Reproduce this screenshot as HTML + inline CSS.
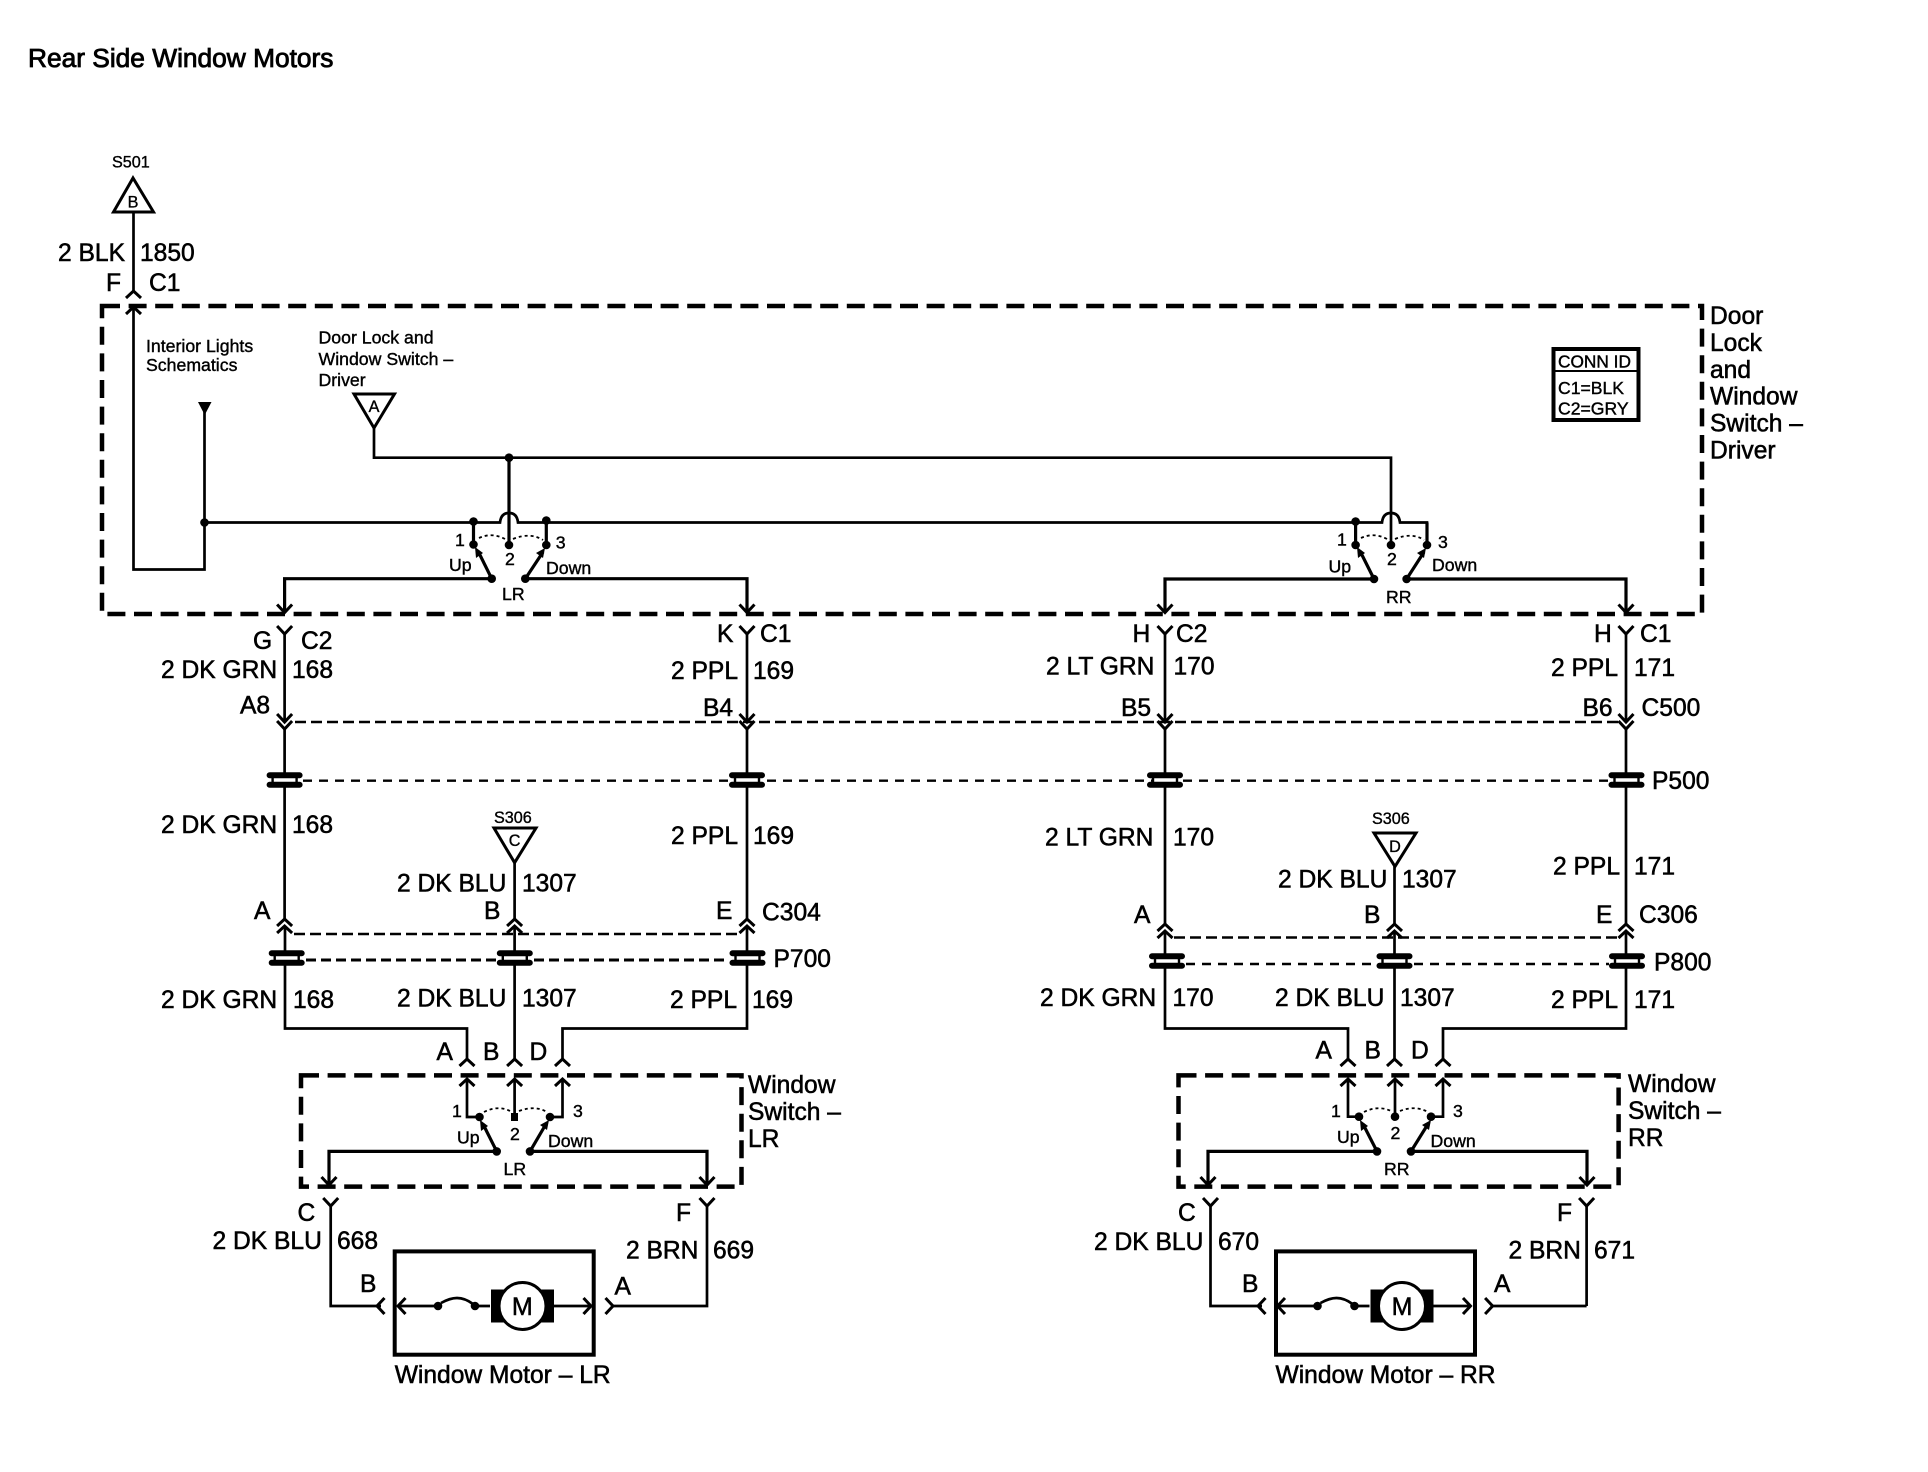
<!DOCTYPE html>
<html><head><meta charset="utf-8"><title>Rear Side Window Motors</title>
<style>
html,body{margin:0;padding:0;background:#fff}
svg{display:block}
text{font-family:"Liberation Sans",sans-serif;fill:#000}
.l{font-size:24.6px;stroke:#000;stroke-width:.55}
.s{font-size:17.7px;stroke:#000;stroke-width:.4}
.t{font-size:26.3px;stroke:#000;stroke-width:.85}
.c{font-size:16.2px;stroke:#000;stroke-width:.35}
.m{font-size:25px;stroke:#000;stroke-width:.5;text-anchor:middle}
.w{fill:none;stroke:#000;stroke-width:2.7}
.h{fill:none;stroke:#000;stroke-width:3.2}
.b{fill:none;stroke:#000;stroke-width:4.5;stroke-dasharray:18 8.6}
.d1{fill:none;stroke:#000;stroke-width:2.6;stroke-dasharray:11 5}
.d2{fill:none;stroke:#000;stroke-width:2.4;stroke-dasharray:9 7}
.d3{fill:none;stroke:#000;stroke-width:3;stroke-dasharray:10 5}
.a{fill:none;stroke:#000;stroke-width:1.8;stroke-dasharray:3 3}
.tri{fill:#fff;stroke:#000;stroke-width:3}
</style></head><body>
<svg width="1928" height="1472" viewBox="0 0 1928 1472" xmlns="http://www.w3.org/2000/svg">
<defs>
<path id="vd" d="M-7.5 -8L0 0L7.5 -8" fill="none" stroke="#000" stroke-width="3"/>
<path id="vu" d="M-7.5 7L0 0L7.5 7" fill="none" stroke="#000" stroke-width="3"/>
<path id="vl" d="M7.5 -8L0 0L7.5 8" fill="none" stroke="#000" stroke-width="3"/>
<path id="vr" d="M-7.5 -8L0 0L-7.5 8" fill="none" stroke="#000" stroke-width="3"/>
<g id="plug">
<rect x="-12" y="-5" width="24" height="10" fill="#fff" stroke="#000" stroke-width="2.4"/>
<path d="M-15 -4.700H15M-15 4.700H15" stroke="#000" stroke-width="6" stroke-linecap="round" fill="none"/>
<path d="M-10 0H10" stroke="#fff" stroke-width="2.4" fill="none"/>
</g>
<circle id="dot" r="4.3" fill="#000"/>
<g id="motor">
<path d="M-7.5 -8L0 0L-7.5 8" transform="translate(196,0)" fill="none" stroke="#000" stroke-width="3"/>
<path d="M3 0H43M80 0H95" class="w"/>
<path d="M7.5 -8L0 0L7.5 8" transform="translate(3,0)" fill="none" stroke="#000" stroke-width="3"/>
<circle cx="43" cy="0" r="4.3" fill="#000"/>
<circle cx="80" cy="0" r="4.3" fill="#000"/>
<path d="M46 -3Q55 -8 62 -8Q70 -8 78 -2" class="w"/>
<rect x="96" y="-16.5" width="63" height="33" fill="#000"/>
<circle cx="127.500" cy="0" r="23.500" fill="#fff" stroke="#000" stroke-width="3"/>
<path d="M159 0H196" class="w"/>
</g>
</defs>

<text x="28" y="67" class="t">Rear Side Window Motors</text>

<!-- top S501 -->
<text x="112" y="167.500" class="c">S501</text>
<path d="M133 178L113.500 212H153.500Z" class="tri"/>
<text x="133" y="207.500" class="c" text-anchor="middle">B</text>
<path d="M133.500 212V292" class="w"/>
<use href="#vu" x="133.500" y="291"/>
<text x="58" y="261" class="l">2 BLK</text>
<text x="140" y="261" class="l">1850</text>
<text x="106" y="291" class="l">F</text>
<text x="149" y="291" class="l">C1</text>

<!-- main dashed box -->
<path d="M102 306H1702V614H102Z" class="b"/>

<path d="M133.500 308V569.500H204.500V410" class="w"/>
<use href="#vu" x="133.500" y="307"/>
<path d="M198 402H211.500L204.700 415Z" fill="#000"/>
<use href="#dot" x="204.500" y="522.500"/>
<text x="146" y="352" class="s">Interior Lights</text>
<text x="146" y="371" class="s">Schematics</text>
<text x="318.500" y="343.500" class="s">Door Lock and</text>
<text x="318.500" y="365" class="s">Window Switch –</text>
<text x="318.500" y="386" class="s">Driver</text>
<path d="M354 394H394.500L374 428Z" class="tri"/>
<text x="374" y="412" class="c" text-anchor="middle">A</text>
<path d="M374 428V457.700H1391V544.500" class="w"/>
<use href="#dot" x="509" y="457.700"/>
<path d="M509 457.700V544.500" class="h"/>

<!-- bus -->
<path d="M204.500 522.500H500Q501 513 509 513Q517 513 518 522.500H1382Q1383 513 1391 513Q1399 513 1400 522.500H1427V545" class="w"/>

<!-- LR switch (top) -->
<path d="M473.500 521.500V544.500M546.300 520.500V545" class="h"/>
<use href="#dot" x="473.500" y="521.500"/><use href="#dot" x="546.300" y="520.500"/>
<use href="#dot" x="473.500" y="544.500"/><use href="#dot" x="509" y="545"/><use href="#dot" x="546.300" y="545"/>
<path d="M479 538Q492 532 505 539M513 539Q530 532 543 540" class="a"/>
<path d="M491.700 578.700L478 551" class="h"/><path d="M475 547L483 553L476 558Z" fill="#000"/>
<path d="M525.300 578.700L543 552" class="h"/><path d="M545 548L543 558L536 553Z" fill="#000"/>
<use href="#dot" x="491.700" y="578.700"/><use href="#dot" x="525.300" y="578.700"/>
<path d="M491.700 578.700H284.600V612M525.300 578.700H747V612" class="h"/>
<use href="#vd" x="284.600" y="612.500"/><use href="#vd" x="747" y="612.500"/>
<text x="455" y="546" class="s">1</text><text x="505" y="565" class="s">2</text><text x="555.700" y="548.500" class="s">3</text>
<text x="449" y="571" class="s">Up</text><text x="546" y="574" class="s">Down</text><text x="502" y="600" class="s">LR</text>

<!-- RR switch (top) -->
<path d="M1355.600 522.500V545" class="h"/>
<path d="M1427 522.500V545" class="h"/>
<use href="#dot" x="1355.600" y="521.500"/>
<use href="#dot" x="1355.600" y="545"/><use href="#dot" x="1391" y="545"/><use href="#dot" x="1427" y="545"/>
<path d="M1361 538Q1374 532 1387 539M1395 539Q1412 532 1424 540" class="a"/>
<path d="M1374 579L1360 551" class="h"/><path d="M1357 547L1365 553L1358 558Z" fill="#000"/>
<path d="M1406.600 579L1424 552" class="h"/><path d="M1426 548L1424 558L1417 553Z" fill="#000"/>
<use href="#dot" x="1374" y="579"/><use href="#dot" x="1406.600" y="579"/>
<path d="M1374 579H1165V612M1406.600 579H1626V612" class="h"/>
<use href="#vd" x="1165" y="612.500"/><use href="#vd" x="1626" y="612.500"/>
<text x="1337" y="545.500" class="s">1</text><text x="1387" y="565" class="s">2</text><text x="1438" y="548" class="s">3</text>
<text x="1328.500" y="572.500" class="s">Up</text><text x="1432" y="571" class="s">Down</text><text x="1386" y="603" class="s">RR</text>

<!-- right side name -->
<text x="1710" y="324" class="l">Door</text>
<text x="1710" y="351" class="l">Lock</text>
<text x="1710" y="378" class="l">and</text>
<text x="1710" y="404.500" class="l">Window</text>
<text x="1710" y="431.500" class="l">Switch –</text>
<text x="1710" y="458.500" class="l">Driver</text>

<!-- conn id -->
<rect x="1553.500" y="349" width="85" height="71" fill="#fff" stroke="#000" stroke-width="4"/>
<path d="M1553.500 371H1638.500" stroke="#000" stroke-width="2"/>
<text x="1558" y="367.500" class="s" style="font-size:17.300px">CONN ID</text>
<text x="1558" y="394" class="s" style="font-size:17.600px">C1=BLK</text>
<text x="1558" y="414.500" class="s" style="font-size:17.600px">C2=GRY</text>

<!-- column connectors C2/C1 -->
<use href="#vd" x="284.600" y="634"/><use href="#vd" x="747" y="634"/><use href="#vd" x="1165" y="634"/><use href="#vd" x="1626" y="634"/>
<path d="M284.600 634V722M284.600 729V775M747 634V722M747 729V775M1165 634V722M1165 729V775M1626 634V722M1626 729V775" class="w"/>
<use href="#vd" x="284.600" y="722"/><use href="#vd" x="284.600" y="729"/>
<use href="#vd" x="747" y="722"/><use href="#vd" x="747" y="729"/>
<use href="#vd" x="1165" y="722"/><use href="#vd" x="1165" y="729"/>
<use href="#vd" x="1626" y="722"/><use href="#vd" x="1626" y="729"/>
<path d="M295 722H1620" class="d1"/>
<path d="M303 780.700H1608" class="d2"/>

<text x="253" y="649" class="l">G</text><text x="301" y="649" class="l">C2</text>
<text x="161" y="678" class="l">2 DK GRN</text><text x="292" y="678" class="l">168</text>
<text x="240" y="713.500" class="l">A8</text>
<text x="717" y="642" class="l">K</text><text x="760" y="642" class="l">C1</text>
<text x="671" y="679" class="l">2 PPL</text><text x="753" y="679" class="l">169</text>
<text x="703" y="716" class="l">B4</text>
<text x="1132.500" y="642" class="l">H</text><text x="1176" y="642" class="l">C2</text>
<text x="1046" y="674.500" class="l">2 LT GRN</text><text x="1173.500" y="674.500" class="l">170</text>
<text x="1121" y="716" class="l">B5</text>
<text x="1594" y="642" class="l">H</text><text x="1640" y="642" class="l">C1</text>
<text x="1551" y="676" class="l">2 PPL</text><text x="1634" y="676" class="l">171</text>
<text x="1582.500" y="716" class="l">B6</text><text x="1641.500" y="716" class="l">C500</text>

<!-- wires P500 to C304 / C306 -->
<path d="M284.600 785V919M747 785V919M1165 785V924M1626 785V924" class="w"/>
<use href="#plug" x="284.600" y="780"/><use href="#plug" x="747" y="780"/><use href="#plug" x="1165" y="780"/><use href="#plug" x="1626.500" y="780"/>
<text x="1652" y="789" class="l">P500</text>
<text x="161" y="833" class="l">2 DK GRN</text><text x="292" y="833" class="l">168</text>
<text x="671" y="844" class="l">2 PPL</text><text x="753" y="844" class="l">169</text>
<text x="1045" y="845.500" class="l">2 LT GRN</text><text x="1173" y="845.500" class="l">170</text>
<text x="1553" y="874.500" class="l">2 PPL</text><text x="1634" y="874.500" class="l">171</text>

<!-- S306 C -->
<text x="494" y="823" class="c">S306</text>
<path d="M494 828H536L514.600 862.700Z" class="tri"/>
<text x="514.600" y="846" class="c" text-anchor="middle">C</text>
<path d="M514.600 862.700V919" class="w"/>
<text x="397" y="891.500" class="l">2 DK BLU</text><text x="522" y="891.500" class="l">1307</text>
<!-- S306 D -->
<text x="1372" y="824" class="c">S306</text>
<path d="M1374 833H1416L1395 866.500Z" class="tri"/>
<text x="1395" y="852" class="c" text-anchor="middle">D</text>
<path d="M1394.500 866.500V924" class="w"/>
<text x="1278" y="887.500" class="l">2 DK BLU</text><text x="1402" y="887.500" class="l">1307</text>

<!-- C304 -->
<text x="254" y="919" class="l">A</text><text x="484" y="919" class="l">B</text><text x="716" y="919" class="l">E</text><text x="762" y="920.500" class="l">C304</text>
<g>
<use href="#vu" x="284.600" y="919"/><use href="#vu" x="284.600" y="926"/>
<use href="#vu" x="514.600" y="919"/><use href="#vu" x="514.600" y="926"/>
<use href="#vu" x="747" y="919"/><use href="#vu" x="747" y="926"/>
</g>
<path d="M294 934H740" class="d1"/>
<path d="M285 926V1028.500H467V1059M514.600 926V1059M747 926V1028.500H562.500V1059" class="w"/>
<use href="#plug" x="286.700" y="958"/><use href="#plug" x="514.800" y="958"/><use href="#plug" x="747.500" y="958"/>
<path d="M306 960H496M534 960H729" class="d3"/>
<text x="773.500" y="967" class="l">P700</text>
<text x="161" y="1008" class="l">2 DK GRN</text><text x="293" y="1008" class="l">168</text>
<text x="397" y="1006.500" class="l">2 DK BLU</text><text x="522" y="1006.500" class="l">1307</text>
<text x="670" y="1008" class="l">2 PPL</text><text x="752" y="1008" class="l">169</text>
<use href="#vu" x="467" y="1059"/><use href="#vu" x="514.600" y="1059"/><use href="#vu" x="562.500" y="1059"/>
<text x="436.500" y="1060" class="l">A</text><text x="483" y="1060" class="l">B</text><text x="529.500" y="1060" class="l">D</text>

<!-- C306 -->
<text x="1134" y="923" class="l">A</text><text x="1364" y="923" class="l">B</text><text x="1596" y="923" class="l">E</text><text x="1639" y="923" class="l">C306</text>
<g>
<use href="#vu" x="1165" y="924"/><use href="#vu" x="1165" y="931"/>
<use href="#vu" x="1394.500" y="924"/><use href="#vu" x="1394.500" y="931"/>
<use href="#vu" x="1626" y="924"/><use href="#vu" x="1626" y="931"/>
</g>
<path d="M1174 937.500H1619" class="d1"/>
<path d="M1165 931V1028.500H1348V1059M1394.500 931V1059M1626 931V1028.500H1443V1059" class="w"/>
<use href="#plug" x="1167" y="961"/><use href="#plug" x="1394.500" y="961"/><use href="#plug" x="1627" y="961"/>
<path d="M1186 964H1376M1414 964H1609" class="d2"/>
<text x="1654" y="970.500" class="l">P800</text>
<text x="1040" y="1006" class="l">2 DK GRN</text><text x="1172.500" y="1006" class="l">170</text>
<text x="1275" y="1006" class="l">2 DK BLU</text><text x="1400" y="1006" class="l">1307</text>
<text x="1551" y="1008" class="l">2 PPL</text><text x="1634" y="1008" class="l">171</text>
<use href="#vu" x="1348" y="1059"/><use href="#vu" x="1394.500" y="1059"/><use href="#vu" x="1443" y="1059"/>
<text x="1315.500" y="1058.500" class="l">A</text><text x="1364.500" y="1058.500" class="l">B</text><text x="1411" y="1058.500" class="l">D</text>

<!-- Window Switch LR -->
<path d="M301 1075.400H741.500V1186.600H301Z" class="b"/>
<path d="M467 1080V1117H479.500M514.600 1080V1117M562.500 1080V1117H550" class="w"/>
<use href="#vu" x="467" y="1079"/><use href="#vu" x="514.600" y="1079"/><use href="#vu" x="562.500" y="1079"/>
<use href="#dot" x="479.500" y="1117"/><rect x="511" y="1113" width="7" height="8" fill="#000"/><use href="#dot" x="550" y="1117"/>
<path d="M484 1112Q498 1105 510 1111M519 1111Q535 1105 547 1112" class="a"/>
<path d="M496.700 1151.400L483 1124" class="h"/><path d="M480 1120L488 1126L481 1131Z" fill="#000"/>
<path d="M530 1151.400L546 1124" class="h"/><path d="M549 1120L547 1130L540 1125Z" fill="#000"/>
<use href="#dot" x="496.700" y="1151.400"/><use href="#dot" x="530" y="1151.400"/>
<path d="M496.700 1151.400H329V1184M530 1151.400H707V1184" class="h"/>
<use href="#vd" x="329" y="1185"/><use href="#vd" x="707" y="1185"/>
<text x="452" y="1117" class="s">1</text><text x="510" y="1140" class="s">2</text><text x="573" y="1117" class="s">3</text>
<text x="457" y="1143.500" class="s">Up</text><text x="548" y="1147" class="s">Down</text><text x="503.500" y="1175" class="s">LR</text>
<text x="748" y="1093" class="l">Window</text><text x="748" y="1120" class="l">Switch –</text><text x="748" y="1147" class="l">LR</text>

<!-- Window Switch RR -->
<path d="M1178.500 1075.400H1618.600V1186.600H1178.500Z" class="b"/>
<path d="M1348 1080V1116.700H1359M1395 1080V1116.700M1443 1080V1116.700H1431" class="w"/>
<use href="#vu" x="1348" y="1079"/><use href="#vu" x="1395" y="1079"/><use href="#vu" x="1443" y="1079"/>
<use href="#dot" x="1359" y="1116.700"/><use href="#dot" x="1395" y="1116.700"/><use href="#dot" x="1431" y="1116.700"/>
<path d="M1364 1112Q1378 1105 1391 1111M1400 1111Q1415 1105 1428 1112" class="a"/>
<path d="M1377 1151.400L1363 1124" class="h"/><path d="M1360 1120L1368 1126L1361 1131Z" fill="#000"/>
<path d="M1411 1151.400L1428 1124" class="h"/><path d="M1431 1120L1429 1130L1422 1125Z" fill="#000"/>
<use href="#dot" x="1377" y="1151.400"/><use href="#dot" x="1411" y="1151.400"/>
<path d="M1377 1151.400H1208V1184M1411 1151.400H1587V1184" class="h"/>
<use href="#vd" x="1208" y="1185"/><use href="#vd" x="1587" y="1185"/>
<text x="1331" y="1117" class="s">1</text><text x="1390.500" y="1139" class="s">2</text><text x="1453" y="1117" class="s">3</text>
<text x="1337" y="1143" class="s">Up</text><text x="1430.500" y="1147" class="s">Down</text><text x="1384" y="1175" class="s">RR</text>
<text x="1628" y="1092" class="l">Window</text><text x="1628" y="1119" class="l">Switch –</text><text x="1628" y="1146" class="l">RR</text>

<!-- lower LR wiring -->
<use href="#vd" x="330.700" y="1206"/><use href="#vd" x="707" y="1206"/>
<path d="M330.700 1206V1306H381M707 1206V1306H613" class="w"/>
<use href="#vl" x="377" y="1306"/>
<use href="#vr" x="613" y="1306"/>
<rect x="394.700" y="1251.400" width="199" height="103.300" fill="none" stroke="#000" stroke-width="4"/>
<use href="#motor" x="395" y="1306"/>
<text x="297.500" y="1221" class="l">C</text><text x="676" y="1221" class="l">F</text>
<text x="212.500" y="1249" class="l">2 DK BLU</text><text x="337" y="1249" class="l">668</text>
<text x="626" y="1258.500" class="l">2 BRN</text><text x="713" y="1258.500" class="l">669</text>
<text x="360" y="1292" class="l">B</text><text x="614.500" y="1294.500" class="l">A</text>
<text x="394.700" y="1383" class="l">Window Motor – LR</text>
<text x="522.300" y="1315" class="m">M</text>

<!-- lower RR wiring -->
<use href="#vd" x="1210.500" y="1206"/><use href="#vd" x="1586.600" y="1206"/>
<path d="M1210.500 1206V1306H1262M1586.600 1306V1206M1586.600 1306H1492.600" class="w"/>
<use href="#vl" x="1258" y="1306"/>
<use href="#vr" x="1492.600" y="1306"/>
<rect x="1276" y="1251.400" width="199" height="103.300" fill="none" stroke="#000" stroke-width="4"/>
<use href="#motor" x="1274.500" y="1306"/>
<text x="1178" y="1221" class="l">C</text><text x="1557" y="1221" class="l">F</text>
<text x="1094" y="1250" class="l">2 DK BLU</text><text x="1218" y="1250" class="l">670</text>
<text x="1508.500" y="1258.500" class="l">2 BRN</text><text x="1594" y="1258.500" class="l">671</text>
<text x="1242" y="1292" class="l">B</text><text x="1494" y="1292" class="l">A</text>
<text x="1275.500" y="1383" class="l">Window Motor – RR</text>
<text x="1402" y="1315" class="m">M</text>
</svg>
</body></html>
